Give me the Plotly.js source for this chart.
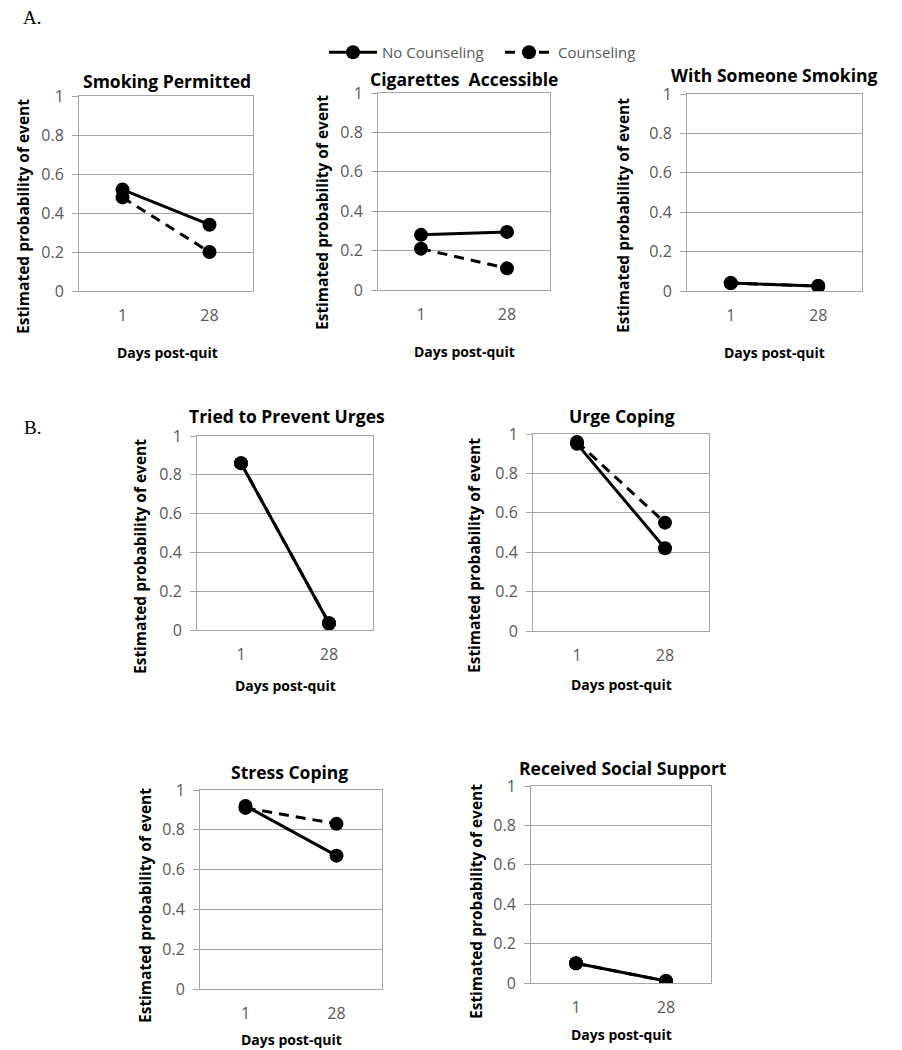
<!DOCTYPE html>
<html>
<head>
<meta charset="utf-8">
<script src="https://cdn.plot.ly/plotly-3.0.1.min.js"></script>
<style>html,body{margin:0;padding:0;background:#fff;}#chart{width:902px;height:1050px;}</style>
</head>
<body>
<div id="chart"></div>
<script>
// ---- data ----
const days = ['1', '28'];
const panelTitles = ['Smoking Permitted', 'Cigarettes  Accessible', 'With Someone Smoking',
  'Tried to Prevent Urges', 'Urge Coping', 'Stress Coping', 'Received Social Support'];
const seriesNames = ['No Counseling', 'Counseling'];
const noCounseling = [[0.52, 0.34], [0.28, 0.295], [0.04, 0.025], [0.86, 0.035], [0.95, 0.42], [0.92, 0.67], [0.10, 0.01]];
const counseling   = [[0.48, 0.20], [0.21, 0.11], [0.04, 0.025], [0.86, 0.035], [0.96, 0.55], [0.91, 0.83], [0.10, 0.01]];
const yTitle = 'Estimated probability of event';
const xTitle = 'Days post-quit';
const sectionLabels = ['A.', 'B.'];

// ---- layout geometry (pixels) ----
const W = 902, H = 1050;
// [left, right, top, bottom] of plot area
const boxes = [[79,253,96,291],[378,550,93,290],[687,862,94,291],[197,373,436,630],[533,709,434,631],[200,382,790,989],[531,711,786,983]];
const titlePos = [[167,81],[464,79],[774,75],[287,416],[622,416],[289,772],[623,768]];
const yTitlePos = [[23,217],[322,213],[623,216],[140,557],[474,556],[145,906],[476,902]];
const xTitlePos = [[167,352],[464,351],[774,352],[285,685],[621,684],[291,1039],[621,1034]];
const sectionPos = [[32,18],[32,428]];

const FONT = '"Open Sans", Lato, sans-serif';
const GRID = '#a6a6a6';
const px = v => v / W, py = v => 1 - v / H;

const traces = [];
const layout = {
  width: W, height: H,
  margin: {l: 0, r: 0, t: 0, b: 0},
  paper_bgcolor: '#fff', plot_bgcolor: '#fff',
  font: {family: FONT, color: '#000'},
  showlegend: true,
  legend: {orientation: 'h', x: px(324), y: py(36), xanchor: 'left', yanchor: 'top',
    font: {family: FONT, size: 15, color: '#595959'}, bgcolor: 'rgba(0,0,0,0)',
    itemwidth: 48, tracegroupgap: 0, entrywidth: 113},
  annotations: []
};

panelTitles.forEach((t, i) => {
  const n = i === 0 ? '' : String(i + 1);
  const [l, r, tp, b] = boxes[i];
  layout['xaxis' + n] = {
    type: 'category', range: [-0.5, 1.5], domain: [px(l), px(r)], anchor: 'y' + n,
    showgrid: false, showline: true, mirror: true, linecolor: GRID, linewidth: 1,
    ticks: '', tickfont: {family: FONT, size: 16, color: '#595959'}, ticklabelstandoff: 10,
    zeroline: false, fixedrange: true
  };
  layout['yaxis' + n] = {
    range: [0, 1], dtick: 0.2, tick0: 0, domain: [py(b), py(tp)], anchor: 'x' + n,
    showgrid: true, gridcolor: GRID, gridwidth: 1, showline: true, mirror: true,
    linecolor: GRID, linewidth: 1, ticks: 'outside', ticklen: 6, tickcolor: GRID,
    tickfont: {family: FONT, size: 16, color: '#595959'}, ticklabelstandoff: 5,
    zeroline: false, fixedrange: true
  };
  const xa = 'x' + n, ya = 'y' + n;
  traces.push({
    x: days, y: counseling[i], xaxis: xa, yaxis: ya, type: 'scatter', mode: 'lines+markers',
    name: seriesNames[1], legendrank: 2, showlegend: i === 0,
    line: {color: '#000', width: 3, dash: '10px,7px'},
    marker: {color: '#000', size: 14, symbol: 'circle'}
  });
  traces.push({
    x: days, y: noCounseling[i], xaxis: xa, yaxis: ya, type: 'scatter', mode: 'lines+markers',
    name: seriesNames[0], legendrank: 1, showlegend: i === 0,
    line: {color: '#000', width: 3},
    marker: {color: '#000', size: 14, symbol: 'circle'}
  });
  layout.annotations.push({text: '<b>' + t.replace(/  /g, '&nbsp; ') + '</b>', xref: 'paper', yref: 'paper',
    x: px(titlePos[i][0]), y: py(titlePos[i][1]), xanchor: 'center', yanchor: 'middle',
    showarrow: false, font: {family: FONT, size: 17.5, color: '#000'}});
  layout.annotations.push({text: '<b>' + yTitle + '</b>', xref: 'paper', yref: 'paper',
    x: px(yTitlePos[i][0]), y: py(yTitlePos[i][1]), xanchor: 'center', yanchor: 'middle',
    textangle: -90, showarrow: false, font: {family: FONT, size: 15.5, color: '#000'}});
  layout.annotations.push({text: '<b>' + xTitle + '</b>', xref: 'paper', yref: 'paper',
    x: px(xTitlePos[i][0]), y: py(xTitlePos[i][1]), xanchor: 'center', yanchor: 'middle',
    showarrow: false, font: {family: FONT, size: 14, color: '#000'}});
});

sectionLabels.forEach((s, i) => {
  layout.annotations.push({text: s, xref: 'paper', yref: 'paper',
    x: px(sectionPos[i][0]), y: py(sectionPos[i][1]), xanchor: 'center', yanchor: 'middle',
    showarrow: false, font: {family: '"Liberation Serif", "Times New Roman", serif', size: 19, color: '#000'}});
});

Plotly.newPlot('chart', traces, layout, {displayModeBar: false, staticPlot: true});
</script>
</body>
</html>
